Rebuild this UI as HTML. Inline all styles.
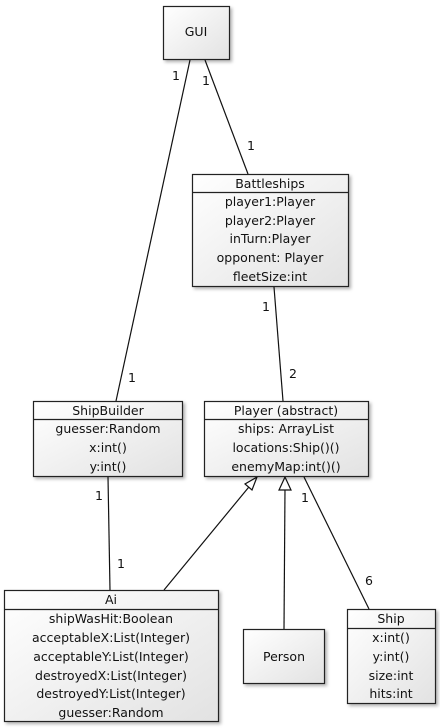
<!DOCTYPE html>
<html><head><meta charset="utf-8"><style>
html,body{margin:0;padding:0;background:#fff;}
svg{display:block;}
text{font-family:"DejaVu Sans","Liberation Sans",sans-serif;font-size:12.5px;fill:#111;}
</style></head><body>
<svg width="440" height="728" viewBox="0 0 440 728" xmlns="http://www.w3.org/2000/svg">
<defs>
<linearGradient id="g" x1="0" y1="0" x2="1" y2="1">
<stop offset="0" stop-color="#ffffff"/><stop offset="1" stop-color="#e2e2e2"/>
</linearGradient>
<filter id="s" x="-10%" y="-10%" width="130%" height="130%">
<feDropShadow dx="2" dy="2" stdDeviation="1.5" flood-color="#000" flood-opacity="0.3"/>
</filter>
</defs>
<g stroke="#111" stroke-width="1.2" fill="none">
<line x1="190" y1="60" x2="116" y2="401"/>
<line x1="205" y1="60" x2="248" y2="174"/>
<line x1="274" y1="287" x2="283" y2="401"/>
<line x1="108" y1="477" x2="110" y2="590"/>
<line x1="164" y1="590" x2="253" y2="482"/>
<line x1="284" y1="629" x2="285" y2="488"/>
<line x1="304" y1="477" x2="369" y2="609"/>
</g>
<g stroke="#111" stroke-width="1.2" fill="#fff">
<polygon points="257,477 245,484 252,490"/>
<polygon points="285,477 279,490 291,490"/>
</g>
<g stroke="#222" stroke-width="1.2" fill="url(#g)" filter="url(#s)">
<rect x="163.5" y="6.5" width="66" height="53"/>
<rect x="192.5" y="174.5" width="156" height="112"/>
<rect x="33.5" y="401.5" width="149" height="75"/>
<rect x="204.5" y="401.5" width="164" height="75"/>
<rect x="4.5" y="590.5" width="214" height="131"/>
<rect x="243.5" y="629.5" width="81" height="54"/>
<rect x="347.5" y="609.5" width="88" height="94"/>
</g>
<g stroke="#222" stroke-width="1.2">
<line x1="192.5" y1="192.5" x2="348.5" y2="192.5"/>
<line x1="33.5" y1="419.5" x2="182.5" y2="419.5"/>
<line x1="204.5" y1="419.5" x2="368.5" y2="419.5"/>
<line x1="4.5" y1="609.5" x2="218.5" y2="609.5"/>
<line x1="347.5" y1="628.5" x2="435.5" y2="628.5"/>
</g>
<g text-anchor="middle">
<text x="196" y="36">GUI</text>
<text x="270" y="188">Battleships</text>
<text x="270" y="206">player1:Player</text>
<text x="270" y="225">player2:Player</text>
<text x="270" y="243">inTurn:Player</text>
<text x="270" y="262">opponent: Player</text>
<text x="270" y="281">fleetSize:int</text>
<text x="108" y="415">ShipBuilder</text>
<text x="108" y="433">guesser:Random</text>
<text x="108" y="452">x:int()</text>
<text x="108" y="471">y:int()</text>
<text x="286" y="415">Player (abstract)</text>
<text x="286" y="433">ships: ArrayList</text>
<text x="286" y="452">locations:Ship()()</text>
<text x="286" y="471">enemyMap:int()()</text>
<text x="111" y="604">Ai</text>
<text x="111" y="623">shipWasHit:Boolean</text>
<text x="111" y="642">acceptableX:List(Integer)</text>
<text x="111" y="661">acceptableY:List(Integer)</text>
<text x="111" y="680">destroyedX:List(Integer)</text>
<text x="111" y="698">destroyedY:List(Integer)</text>
<text x="111" y="717">guesser:Random</text>
<text x="284" y="661">Person</text>
<text x="391" y="623">Ship</text>
<text x="391" y="642">x:int()</text>
<text x="391" y="661">y:int()</text>
<text x="391" y="680">size:int</text>
<text x="391" y="698">hits:int</text>
</g>
<g style="font-size:10.5px">
<text x="172" y="80">1</text>
<text x="202" y="85">1</text>
<text x="247" y="150">1</text>
<text x="262" y="311">1</text>
<text x="289" y="378">2</text>
<text x="128" y="382">1</text>
<text x="95" y="500">1</text>
<text x="117" y="568">1</text>
<text x="301" y="502">1</text>
<text x="365" y="585">6</text>
</g>
</svg>
</body></html>
